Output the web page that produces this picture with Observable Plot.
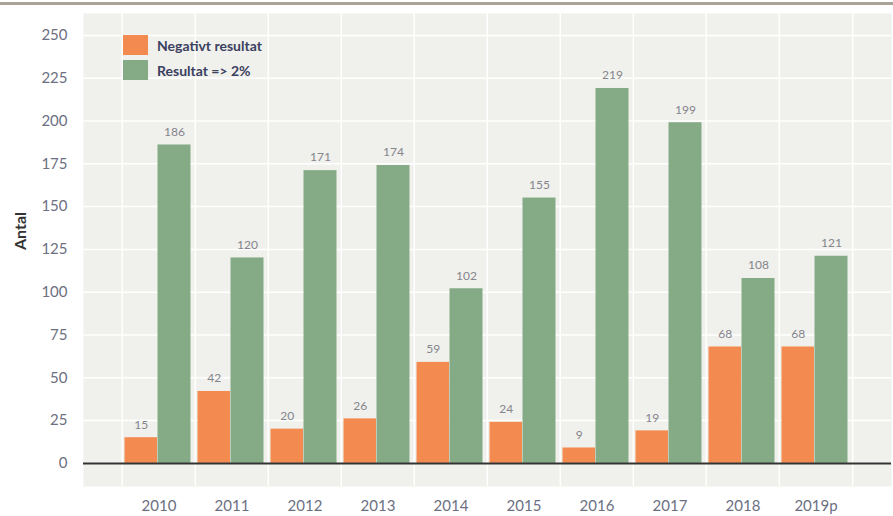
<!DOCTYPE html>
<html>
<head>
<meta charset="utf-8">
<script src="https://cdn.jsdelivr.net/npm/d3@7"></script>
<script src="https://cdn.jsdelivr.net/npm/@observablehq/plot@0.6"></script>
<style>
  html, body { margin: 0; padding: 0; background: #fff; }
  #wrap { position: relative; width: 893px; height: 516px; font-family: Lato, "Open Sans", sans-serif; }
  #topline { position: absolute; left: 0; top: 2px; width: 893px; height: 0; border-top: 3px solid #a8a299; }
  .leg { position: absolute; left: 123px; display: flex; align-items: center; font-size: 14px; font-weight: bold; color: #3b4060; }
  .leg span.sw { display: inline-block; width: 25px; height: 20px; margin-right: 9px; }
</style>
</head>
<body>
<div id="wrap">
  <div id="chart"></div>
  <div id="topline"></div>
  <div class="leg" style="top:35px"><span class="sw" style="background:#f38b50"></span>Negativt resultat</div>
  <div class="leg" style="top:60px"><span class="sw" style="background:#84ab86"></span>Resultat =&gt; 2%</div>
</div>
<script>
const years = ["2010", "2011", "2012", "2013", "2014", "2015", "2016", "2017", "2018", "2019p"];
const negativt = [15, 42, 20, 26, 59, 24, 9, 19, 68, 68];
const resultat = [186, 120, 171, 174, 102, 155, 219, 199, 108, 121];
const yTicks = [0, 25, 50, 75, 100, 125, 150, 175, 200, 225, 250];

const rows = years.map((year, i) => ({year, neg: negativt[i], pos: resultat[i]}));

const W = 893, H = 516, ML = 83, MR = 2, MT = 13, MB = 30;
const step = (W - ML - MR) / (years.length + 1);

const orange = "#f38b50", green = "#84ab86";

const chart = Plot.plot({
  width: W, height: H,
  marginLeft: ML, marginRight: MR, marginTop: MT, marginBottom: MB,
  x: {domain: years, paddingInner: 0, paddingOuter: 0.5, label: null},
  y: {domain: [-13.5, 262.8], label: null},
  style: {fontFamily: "Lato, 'Open Sans', sans-serif", fontSize: "15px", color: "#6c6f82", background: "transparent"},
  marks: [
    Plot.frame({fill: "#f0f0ec", stroke: null}),
    Plot.ruleX(years, {x: d => d, dx: -step / 2, stroke: "white", strokeWidth: 1.5}),
    Plot.ruleX([years[years.length - 1]], {x: d => d, dx: step / 2, stroke: "white", strokeWidth: 1.5}),
    Plot.gridY(yTicks, {stroke: "white", strokeOpacity: 1, strokeWidth: 1.5}),
    Plot.barY(rows, {x: "year", y: "neg", fill: orange, insetLeft: 2.5, insetRight: 38}),
    Plot.barY(rows, {x: "year", y: "pos", fill: green, insetLeft: 35.5, insetRight: 4.5}),
    Plot.ruleY([0], {stroke: "#333", strokeWidth: 2}),
    Plot.text(rows, {x: "year", y: "neg", text: d => String(d.neg), dx: -17.7, dy: -13, fontSize: 12, fill: "#85858c"}),
    Plot.text(rows, {x: "year", y: "pos", text: d => String(d.pos), dx: 15.5, dy: -13, fontSize: 12, fill: "#85858c"}),
    Plot.axisY(yTicks, {tickSize: 0, tickPadding: 16, fontSize: 15, label: null}),
    Plot.axisX({tickSize: 0, tickPadding: 14, fontSize: 15, label: null}),
    Plot.text(["Antal"], {frameAnchor: "left", dx: -63, rotate: -90, fontWeight: "bold", fontSize: 16, fill: "#333"})
  ]
});
document.getElementById("chart").appendChild(chart);
</script>
</body>
</html>
